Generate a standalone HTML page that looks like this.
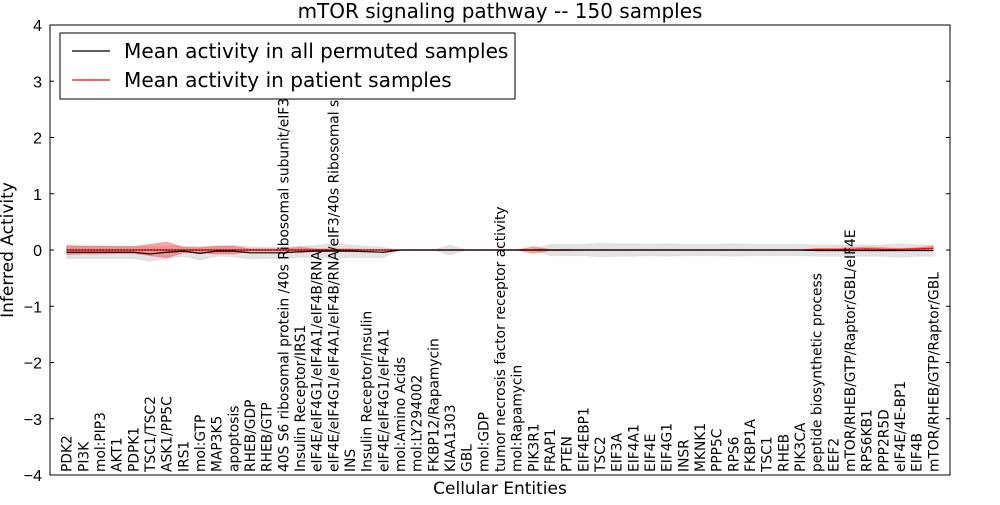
<!DOCTYPE html>
<html><head><meta charset="utf-8"><style>
body{margin:0;background:#fff;}
svg{font-family:"DejaVu Sans","Liberation Sans",sans-serif;}
</style></head><body>
<svg id="chart" width="1000" height="500">
<rect width="1000" height="500" fill="#fff"/>
<g id="bands"></g><g id="lines"></g><g id="axes"></g><g id="xlabels"></g>
</svg>
<script>
const categories=["PDK2","PI3K","mol:PIP3","AKT1","PDPK1","TSC1/TSC2","ASK1/PP5C","IRS1","mol:GTP","MAP3K5","apoptosis","RHEB/GDP","RHEB/GTP","40S S6 ribosomal protein /40s Ribosomal subunit/eIF3","Insulin Receptor/IRS1","eIF4E/eIF4G1/eIF4A1/eIF4B/RNA","eIF4E/eIF4G1/eIF4A1/eIF4B/RNA/eIF3/40s Ribosomal s","INS","Insulin Receptor/Insulin","eIF4E/eIF4G1/eIF4A1","mol:Amino Acids","mol:LY294002","FKBP12/Rapamycin","KIAA1303","GBL","mol:GDP","tumor necrosis factor receptor activity","mol:Rapamycin","PIK3R1","FRAP1","PTEN","EIF4EBP1","TSC2","EIF3A","EIF4A1","EIF4E","EIF4G1","INSR","MKNK1","PPP5C","RPS6","FKBP1A","TSC1","RHEB","PIK3CA","peptide biosynthetic process","EEF2","mTOR/RHEB/GTP/Raptor/GBL/eIF4E","RPS6KB1","PPP2R5D","eIF4E/4E-BP1","EIF4B","mTOR/RHEB/GTP/Raptor/GBL"];
const permMean=[-0.04,-0.04,-0.04,-0.04,-0.04,-0.07,-0.04,-0.02,-0.06,-0.02,-0.02,-0.05,-0.05,-0.05,-0.03,-0.02,-0.02,-0.02,-0.03,-0.04,0,0,0,0,0,0,0,0,0,0,0,0,0,0,0,0,0,0,0,0,0,0,0,0,0,-0.01,-0.01,-0.01,-0.01,-0.01,-0.01,-0.01,-0.01];
const permStd=[0.11,0.11,0.11,0.11,0.11,0.13,0.11,0.09,0.12,0.09,0.1,0.11,0.1,0.1,0.1,0.1,0.14,0.11,0.1,0.09,0,0,0,0.09,0,0,0,0,0,0.1,0.1,0.1,0.12,0.11,0.11,0.1,0.11,0.1,0.1,0.1,0.11,0.1,0.1,0.1,0.1,0.1,0.1,0.1,0.1,0.1,0.12,0.1,0.1];
const patientMean=[0,0,0,0,0,0,0,0,0,0,0,0,0,0,0,0,0,0,0,0,0,0,0,0,0,0,0,0,0,0,0,0,0,0,0,0,0,0,0,0,0,0,0,0,0,0.01,0.01,0.01,0.02,0.01,0.01,0.02,0.03];
const patientStd=[0.08,0.07,0.07,0.06,0.06,0.1,0.14,0.05,0.04,0.07,0.07,0.02,0.02,0.02,0.05,0.02,0.02,0.02,0.01,0.01,0,0,0,0,0,0,0,0,0.06,0.01,0.01,0,0,0,0,0,0,0,0,0,0,0,0,0,0,0.02,0.02,0.03,0.03,0.03,0.02,0.02,0.04];
const yTicks=[-4,-3,-2,-1,0,1,2,3,4];
const yTickLabels=["\u22124","\u22123","\u22122","\u22121","0","1","2","3","4"];
const L=50,R=950,T=25,B=475;
const xs=i=>L+(i+1)*(R-L)/54;
const ys=v=>B-(v+4)*(B-T)/8;
const NS="http://www.w3.org/2000/svg";
function mk(tag,attrs,parent){const e=document.createElementNS(NS,tag);for(const k in attrs)e.setAttribute(k,attrs[k]);parent.appendChild(e);return e;}
const bands=document.getElementById('bands'),lines=document.getElementById('lines'),axes=document.getElementById('axes'),xl=document.getElementById('xlabels');
function band(mean,std,fill,op,name){
 let d="M";mean.forEach((m,i)=>{d+=xs(i)+","+ys(m+std[i])+" L";});
 for(let i=mean.length-1;i>=0;i--){d+=xs(i)+","+ys(mean[i]-std[i])+(i?" L":"");}
 const p=mk('path',{d:d+"Z",fill:fill,'fill-opacity':op,stroke:fill,'stroke-opacity':op*0.6,'stroke-width':1},bands);
 
 
}
band(permMean,permStd,"#b0b0b0",0.35,"permuted-band");
band(patientMean,patientStd,"#ff0000",0.35,"patient-band");
function line(vals,color,name,dash){
 const pts=vals.map((v,i)=>xs(i)+","+ys(v)).join(" ");
 const p=mk('polyline',{points:pts,fill:'none',stroke:color,'stroke-width':1.2},lines);
 if(dash)p.setAttribute('stroke-dasharray',dash);
 
 
}
line(patientMean,"#ff0000","patient-mean-line");
line(permMean,"#000","permuted-mean-line");
line(permMean.map(()=>0),"#000","zero-line","1,2");
const frame=mk('rect',{x:L,y:T,width:R-L,height:B-T,fill:'none',stroke:'#000','stroke-width':1},axes);


yTicks.forEach((t,i)=>{
 const y=ys(t);
 mk('line',{x1:L,x2:L+4,y1:y,y2:y,stroke:'#000'},axes);
 mk('line',{x1:R-4,x2:R,y1:y,y2:y,stroke:'#000'},axes);
 const tx=mk('text',{x:L-8,y:y+6,'text-anchor':'end','font-size':16,'font-family':'Liberation Sans, sans-serif'},axes);
 tx.textContent=yTickLabels[i];
 
 
});
categories.forEach((c,i)=>{
 const x=xs(i);
 const t=mk('text',{transform:`translate(${x+5},472) rotate(-90)`,'font-size':13.8},xl);
 t.textContent=c;
 
 
});
</script>
<svg style="position:absolute;left:0;top:0" width="1000" height="500">
<text x="500" y="18" text-anchor="middle" font-size="20">mTOR signaling pathway -- 150 samples</text>
<text x="500" y="494" text-anchor="middle" font-size="17">Cellular Entities</text>
<text transform="translate(13,250) rotate(-90)" text-anchor="middle" font-size="17">Inferred Activity</text>
<g>
<rect x="60" y="33" width="455" height="66" fill="#fff" stroke="#000"/>
<line x1="72" x2="110" y1="51" y2="51" stroke="#000" stroke-width="1.2"/>
<text x="124" y="58" font-size="20.1">Mean activity in all permuted samples</text>
<line x1="72" x2="110" y1="80" y2="80" stroke="#f00" stroke-width="1.2"/>
<text x="124" y="87" font-size="20.1">Mean activity in patient samples</text>
</g>
</svg>
</body></html>
